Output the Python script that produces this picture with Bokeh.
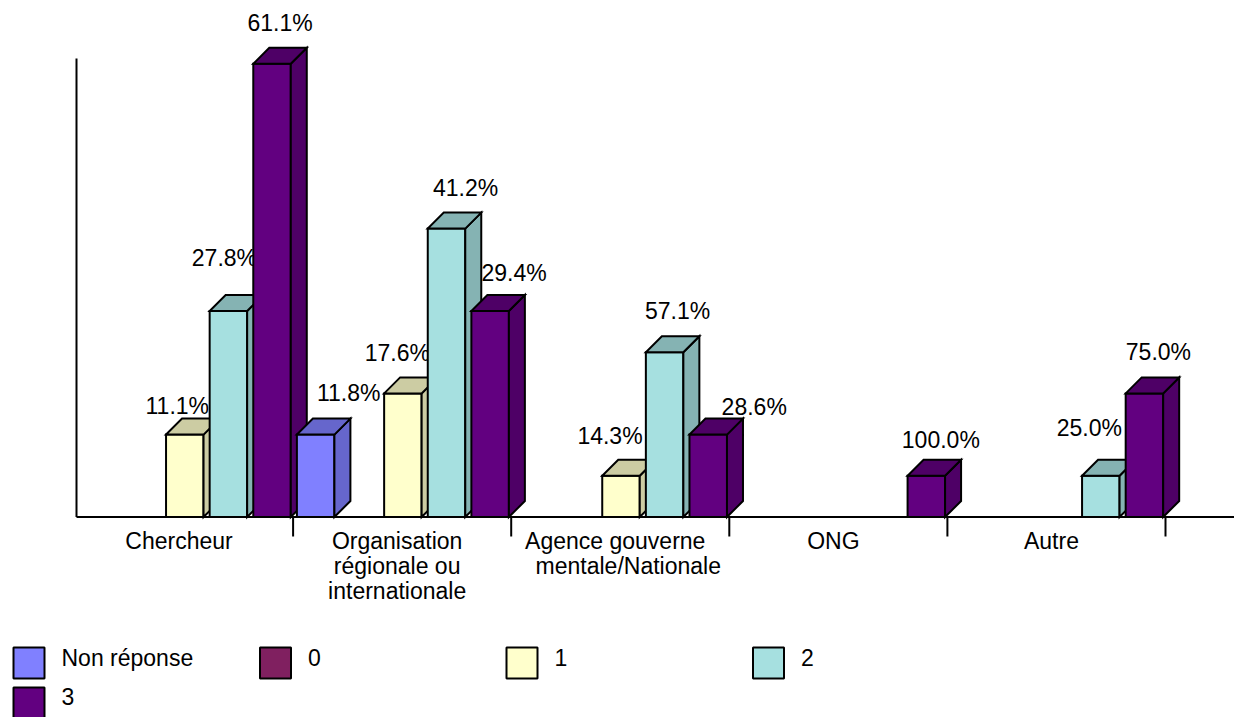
from bokeh.plotting import figure
from bokeh.models import Range1d, ColumnDataSource
from bokeh.core.properties import value
from bokeh.embed import file_html
from bokeh.resources import INLINE

# ---------------- data ----------------
category_lines = [["Chercheur"],
                  ["Organisation", "régionale ou", "internationale"],
                  ["Agence gouverne", "mentale/Nationale"],
                  ["ONG"],
                  ["Autre"]]
series_names = ["Non réponse", "0", "1", "2", "3"]

counts_non_reponse = [0, 2, 0, 0, 0]
counts_0 = [0, 0, 0, 0, 0]
counts_1 = [2, 3, 1, 0, 0]
counts_2 = [5, 7, 4, 0, 1]
counts_3 = [11, 5, 2, 1, 3]

pct_non_reponse = ["", "11.8%", "", "", ""]
pct_0 = ["", "", "", "", ""]
pct_1 = ["11.1%", "17.6%", "14.3%", "", ""]
pct_2 = ["27.8%", "41.2%", "57.1%", "", "25.0%"]
pct_3 = ["61.1%", "29.4%", "28.6%", "100.0%", "75.0%"]

counts = [counts_non_reponse, counts_0, counts_1, counts_2, counts_3]
pcts = [pct_non_reponse, pct_0, pct_1, pct_2, pct_3]

# ---------------- style ----------------
front_colors = ["#8080FF", "#802060", "#FFFFCC", "#A6E0E0", "#620080"]
shade_colors = ["#6666CC", "#661A4D", "#CCCCA3", "#85B3B3", "#4E0066"]
FONT = "Liberation Sans"
FS = "23px"
TEXT_SHIFT = -9   # screen px correction of the text baseline

# label nudges in screen px (dx right, dy up from the bar's front top)
label_nudge = {
    (0, 2): (-7.5, 20), (0, 3): (-4, 44), (0, 4): (8, 32),
    (1, 0): (33, 33), (1, 2): (-5.5, 31), (1, 3): (19, 32), (1, 4): (24, 29),
    (2, 2): (-11, 31), (2, 3): (13, 32), (2, 4): (46, 19),
    (3, 4): (14.5, 27),
    (4, 3): (-11.5, 39), (4, 4): (14, 32),
}
cat_line_shift = [[0], [0, 0, 0], [0, 13], [0], [0]]

# ---------------- geometry ----------------
FIG_W, FIG_H = 1234, 717
PX_X = 218.1      # px per category
PX_Y = 41.2       # px per count
X0_PAGE = 74.5    # page px of category origin
Y0_PAGE = 516.5   # page px of baseline


def X(px):
    return (px - X0_PAGE) / PX_X


def Y(py):
    return (Y0_PAGE - py) / PX_Y


BAR_OFF = 3.8 / PX_X
BAR_W = 37.5 / PX_X
PITCH = 1.0 / len(series_names)
DX = 16 / PX_X
DY = 16 / PX_Y

p = figure(width=FIG_W, height=FIG_H, output_backend="svg", toolbar_location=None,
           x_axis_location=None, y_axis_location=None,
           x_range=Range1d(X(0), X(FIG_W)),
           y_range=Range1d(Y(FIG_H), Y(0)),
           min_border=0, outline_line_color=None, background_fill_color="white")
p.grid.visible = False

# axes lines
p.segment(x0=[X(76)], y0=[0], x1=[X(FIG_W)], y1=[0], line_color="black", line_width=2)
p.segment(x0=[X(76)], y0=[0], x1=[X(76)], y1=[Y(58)], line_color="black", line_width=2)
ncat = len(category_lines)
p.segment(x0=list(range(1, ncat + 1)), y0=[0] * ncat, x1=list(range(1, ncat + 1)),
          y1=[Y(536)] * ncat, line_color="black", line_width=2)

# bars (3D) and labels in drawing order
for c in range(ncat):
    for s in range(len(series_names)):
        h = counts[s][c]
        if h <= 0:
            continue
        l = c + BAR_OFF + PITCH * s
        r = l + BAR_W
        xs = [[l, r, r, l], [r, r + DX, r + DX, r], [l, r, r + DX, l + DX]]
        ys = [[0, 0, h, h], [0, DY, h + DY, h], [h, h, h + DY, h + DY]]
        src = ColumnDataSource(dict(xs=xs, ys=ys,
                                    fill=[front_colors[s], shade_colors[s], shade_colors[s]]))
        p.patches("xs", "ys", source=src, fill_color="fill", line_color="black",
                  line_width=2, line_join="miter")
        txt = pcts[s][c]
        if txt:
            ndx, ndy = label_nudge.get((c, s), (8, 31))
            p.text(x=[(l + r) / 2], y=[h], text=[txt], x_offset=ndx,
                   y_offset=-ndy + TEXT_SHIFT,
                   text_font=value(FONT), text_font_size=FS, text_color="black",
                   text_align="center", text_baseline="alphabetic")

# category labels
lx, ly, lt, lo = [], [], [], []
for c, lines in enumerate(category_lines):
    for k, line in enumerate(lines):
        lx.append(c + 0.5)
        ly.append(Y(549 + 25 * k))
        lt.append(line)
        lo.append(-5 + cat_line_shift[c][k])
p.text(x="x", y="y", text="t", x_offset="o", y_offset=TEXT_SHIFT,
       source=ColumnDataSource(dict(x=lx, y=ly, t=lt, o=lo)),
       text_font=value(FONT), text_font_size=FS, text_color="black",
       text_align="center", text_baseline="alphabetic")

# legend
for i, name in enumerate(series_names):
    col, row = i % 4, i // 4
    left = 13 + 246.5 * col
    top = 647 + 40 * row
    p.quad(left=[X(left)], right=[X(left + 31)], top=[Y(top)], bottom=[Y(top + 31)],
           fill_color=front_colors[i], line_color="black", line_width=2)
    p.text(x=[X(left + 48)], y=[Y(666 + 39 * row)], text=[name], y_offset=TEXT_SHIFT,
           text_font=value(FONT), text_font_size=FS, text_color="black",
           text_align="left", text_baseline="alphabetic")

open("out.html", "w").write(file_html(p, INLINE))
